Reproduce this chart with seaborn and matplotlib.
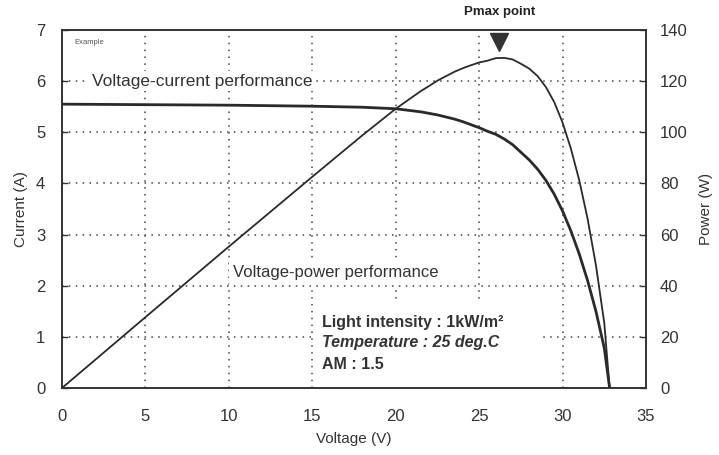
import matplotlib
matplotlib.use("Agg")
import matplotlib.pyplot as plt
import seaborn as sns
import pandas as pd
from matplotlib.patches import Rectangle

sns.set_style("white")
plt.rcParams['font.family'] = ['Liberation Sans', 'DejaVu Sans']

# Data
voltage_iv = [0, 5, 10, 15, 18, 20, 20.5, 21, 21.5, 22, 22.5, 23, 23.5, 24, 24.5, 25,
              25.5, 26, 26.5, 27, 27.5, 28, 28.5, 29, 29.5, 30, 30.5, 31, 31.5, 32, 32.5, 32.82]
current_iv = [5.55, 5.54, 5.53, 5.51, 5.49, 5.46, 5.44, 5.42, 5.40, 5.37, 5.34, 5.30, 5.26, 5.21, 5.15, 5.09,
              5.02, 4.96, 4.87, 4.76, 4.61, 4.46, 4.28, 4.06, 3.79, 3.46, 3.07, 2.62, 2.10, 1.50, 0.78, 0.0]

voltage_pv = [0, 5, 10, 15, 18, 20, 20.5, 21, 21.5, 22, 22.5, 23, 23.5, 24, 24.5, 25,
              25.5, 26, 26.5, 27, 27.5, 28, 28.5, 29, 29.5, 30, 30.5, 31, 31.5, 32, 32.5, 32.82]
power_pv = [0, 27.7, 55.3, 82.6, 98.8, 109.2, 111.5, 113.8, 116.1, 118.1, 120.2, 121.9, 123.6, 125.0, 126.2, 127.3,
            128.0, 129.0, 129.1, 128.5, 126.8, 124.9, 122.0, 117.7, 111.8, 103.8, 93.6, 81.2, 66.2, 48.0, 25.4, 0.0]

x_ticks = [0, 5, 10, 15, 20, 25, 30, 35]
i_ticks = [0, 1, 2, 3, 4, 5, 6, 7]
p_ticks = [0, 20, 40, 60, 80, 100, 120, 140]
pmax_v = 26.2

iv_df = pd.DataFrame({"Voltage": voltage_iv, "Current": current_iv})
pv_df = pd.DataFrame({"Voltage": voltage_pv, "Power": power_pv})

W, H = 719, 455
fig = plt.figure(figsize=(W / 100, H / 100), dpi=100)
ax = fig.add_axes([62 / W, 1 - 388 / H, (646 - 62) / W, (388 - 30) / H])
ax2 = ax.twinx()

txt = '#333333'
line_c = '#2a2a2a'

sns.lineplot(data=iv_df, x="Voltage", y="Current", ax=ax, color=line_c, lw=2.0, zorder=5, sort=False)
sns.lineplot(data=pv_df, x="Voltage", y="Power", ax=ax2, color=line_c, lw=1.3, zorder=5, sort=False)

ax.set_xlim(0, 35)
ax.set_ylim(0, 7)
ax2.set_ylim(0, 140)
ax.set_xticks(x_ticks)
ax.set_yticks(i_ticks)
ax2.set_yticks(p_ticks)

# grid
ax.grid(True, color='#444444', linestyle=(0, (1, 3.5)), lw=1.1, zorder=0.5)
ax.set_axisbelow(True)
ax2.grid(False)

for a in (ax, ax2):
    for s in a.spines.values():
        s.set_color('#333333')
        s.set_linewidth(1.2)

ax.tick_params(axis='both', direction='in', length=4, width=1, colors='#333333',
               labelsize=12, labelcolor=txt)
ax.tick_params(axis='y', pad=12)
ax.tick_params(axis='x', pad=15)
ax2.tick_params(axis='y', direction='in', length=4, width=1, colors='#333333',
                labelsize=12, labelcolor=txt, pad=10)

ax.set_xlabel("Voltage (V)", fontsize=11, color=txt, labelpad=6)
ax.set_ylabel("Current (A)", fontsize=11, color=txt, labelpad=6)
ax2.set_ylabel("Power (W)", fontsize=11, color=txt, labelpad=8)

# text labels with white background masking grid
ax.text(1.8, 6.0, "Voltage-current performance", fontsize=12.5, color=txt,
        va='center', ha='left', zorder=2,
        bbox=dict(facecolor='white', edgecolor='none', pad=2))
ax.text(10.25, 2.25, "Voltage-power performance", fontsize=12, color=txt,
        va='center', ha='left', zorder=2,
        bbox=dict(facecolor='white', edgecolor='none', pad=3))

ax.add_patch(Rectangle((15.15, 0.0), 13.45, 1.72, facecolor='white', edgecolor='none', zorder=1))
ax.text(15.6, 1.29, "Light intensity : 1kW/m²", fontsize=11.5, fontweight='bold',
        color=txt, va='center', ha='left', zorder=2)
ax.text(15.6, 0.89, "Temperature : 25 deg.C", fontsize=11.5, fontweight='bold',
        fontstyle='italic', color=txt, va='center', ha='left', zorder=2)
ax.text(15.6, 0.45, "AM : 1.5", fontsize=11.5, fontweight='bold',
        color=txt, va='center', ha='left', zorder=2)

ax.text(0.75, 6.75, "Example", fontsize=5.5, color='#555555', va='center', ha='left', zorder=2)

# Pmax marker
ax2.plot([pmax_v], [135.5], marker='v', markersize=13, color='#333333',
         clip_on=False, zorder=6, linestyle='none')
ax2.text(pmax_v, 147, "Pmax point", fontsize=9.5, fontweight='bold', color='#222222',
         ha='center', va='center', clip_on=False)

fig.savefig("out.png", dpi=100)
